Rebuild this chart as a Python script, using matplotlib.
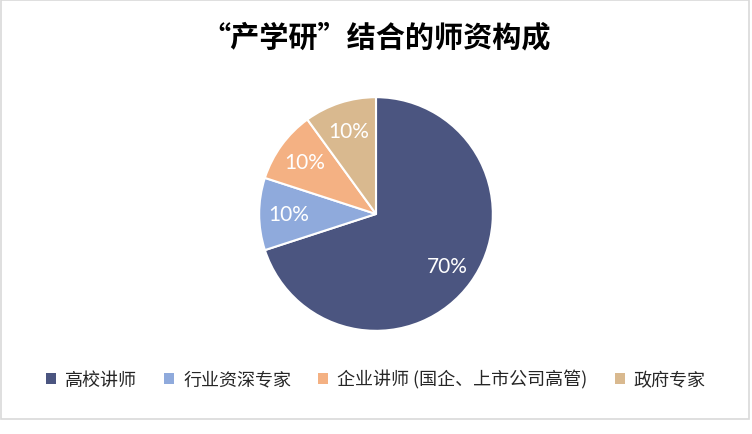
import matplotlib
matplotlib.use('Agg')
import matplotlib.pyplot as plt
from matplotlib.patches import Patch, Rectangle

plt.rcParams['font.family'] = ['Noto Sans CJK SC', 'DejaVu Sans']

# data
categories = ['高校讲师', '行业资深专家', '企业讲师 (国企、上市公司高管)', '政府专家']
shares = [70, 10, 10, 10]
colors = ['#4B5580', '#8FAADC', '#F4B183', '#D9B98F']

fig = plt.figure(figsize=(7.52, 4.35), dpi=100)

# light gray chart frame
fig.patches.append(Rectangle((1/752, 15/435), 748/752, 419/435,
                             transform=fig.transFigure, fill=False,
                             edgecolor='#D9D9D9', linewidth=1.2))

fig.text(0.5, 0.915, '“产学研”结合的师资构成', ha='center', va='center',
         fontsize=21, fontweight='bold', color='#000000')

ax = fig.add_axes([(376-118)/752, (435-333)/435, 236/752, 236/435])
wedges, texts, autotexts = ax.pie(shares, colors=colors, startangle=90,
                                  counterclock=False, autopct='%1.0f%%',
                                  pctdistance=0.75,
                                  wedgeprops={'edgecolor': 'white', 'linewidth': 1.5})
for t in autotexts:
    t.set_color('white')
    t.set_fontsize(15)
    t.set_fontfamily(['Lato', 'DejaVu Sans'])
ax.set_xlim(-1.01, 1.01)
ax.set_ylim(-1.01, 1.01)
ax.set_aspect('equal')

handles = [Patch(facecolor=c, edgecolor='none') for c in colors]
fig.legend(handles, categories, loc='center', bbox_to_anchor=(0.5, 0.126),
           ncol=4, frameon=False, fontsize=13, handlelength=0.55,
           handleheight=0.55, handletextpad=0.5, columnspacing=1.5,
           labelcolor='#262626')

fig.savefig('out.png', dpi=100)
